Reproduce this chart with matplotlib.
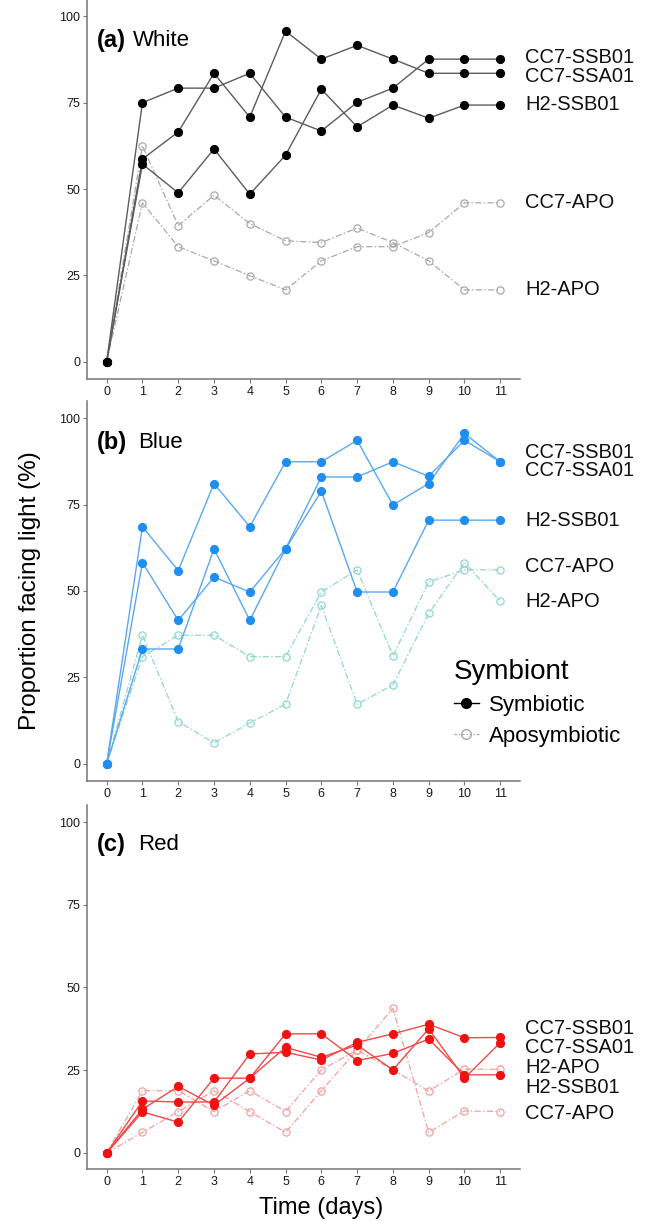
import matplotlib
matplotlib.use("Agg")
import matplotlib.pyplot as plt
from matplotlib.lines import Line2D
from matplotlib.transforms import blended_transform_factory

plt.rcParams["font.family"] = ["Liberation Sans", "DejaVu Sans"]

days = list(range(12))

# panel (a) white light
white_cc7_ssb01 = [0, 75.0, 79.2, 79.2, 83.5, 70.8, 66.8, 75.1, 79.2, 87.6, 87.6, 87.6]
white_cc7_ssa01 = [0, 58.7, 66.5, 83.5, 70.8, 95.7, 87.6, 91.6, 87.6, 83.5, 83.5, 83.5]
white_h2_ssb01 = [0, 57.2, 48.9, 61.6, 48.5, 59.8, 78.9, 68.0, 74.3, 70.5, 74.3, 74.3]
white_cc7_apo = [0, 46.0, 33.3, 29.2, 24.9, 20.8, 29.2, 33.3, 33.3, 37.4, 46.0, 46.0]
white_h2_apo = [0, 62.5, 39.4, 48.2, 40.0, 35.0, 34.5, 38.7, 34.5, 29.2, 20.8, 20.8]

# panel (b) blue light
blue_cc7_ssb01 = [0, 68.6, 55.9, 81.1, 68.6, 87.4, 87.4, 93.6, 74.9, 81.1, 95.6, 87.4]
blue_cc7_ssa01 = [0, 58.2, 41.5, 54.0, 49.7, 62.2, 83.0, 83.0, 87.4, 83.2, 93.6, 87.4]
blue_h2_ssb01 = [0, 33.2, 33.2, 62.2, 41.5, 62.2, 78.9, 49.7, 49.7, 70.5, 70.5, 70.5]
blue_cc7_apo = [0, 31.0, 37.2, 37.2, 31.0, 31.0, 49.7, 56.1, 31.2, 52.6, 56.1, 56.1]
blue_h2_apo = [0, 37.2, 12.2, 6.0, 11.8, 17.2, 45.8, 17.2, 22.8, 43.5, 58.2, 47.0]

# panel (c) red light
red_cc7_ssb01 = [0, 15.7, 15.4, 15.4, 29.9, 30.4, 28.1, 33.4, 36.0, 38.9, 34.8, 34.9]
red_cc7_ssa01 = [0, 13.2, 20.1, 14.4, 22.6, 31.9, 28.9, 32.6, 25.1, 37.5, 22.6, 33.3]
red_h2_ssb01 = [0, 12.4, 9.3, 22.6, 22.6, 36.0, 36.0, 27.9, 30.1, 34.4, 23.6, 23.6]
red_cc7_apo = [0, 18.8, 18.8, 12.5, 18.8, 12.5, 25.1, 31.1, 43.7, 6.2, 12.7, 12.5]
red_h2_apo = [0, 6.2, 12.5, 18.8, 12.5, 6.2, 18.8, 31.1, 25.1, 18.7, 25.3, 25.3]

# where the strain names sit on the right (y in data units)
white_label_y = {"CC7-SSB01": 88.2, "CC7-SSA01": 82.7, "H2-SSB01": 74.6, "CC7-APO": 46.0, "H2-APO": 20.8}
blue_label_y = {"CC7-SSB01": 90.0, "CC7-SSA01": 85.0, "H2-SSB01": 70.5, "CC7-APO": 57.0, "H2-APO": 46.9}
red_label_y = {"CC7-SSB01": 37.7, "CC7-SSA01": 31.9, "H2-APO": 25.8, "H2-SSB01": 19.7, "CC7-APO": 12.0}

panels = [
    {"tag": "(a)", "name": "White", "name_x": 0.106,
     "sym": [white_cc7_ssb01, white_cc7_ssa01, white_h2_ssb01],
     "apo": [white_cc7_apo, white_h2_apo],
     "sym_mk": "#000000", "sym_ln": "#5c5c5c", "apo_c": "#a9a9a9", "labels": white_label_y,
     "rect": [0.1332, 0.6896, 0.663, 0.3112]},
    {"tag": "(b)", "name": "Blue", "name_x": 0.117,
     "sym": [blue_cc7_ssb01, blue_cc7_ssa01, blue_h2_ssb01],
     "apo": [blue_cc7_apo, blue_h2_apo],
     "sym_mk": "#1f8ef1", "sym_ln": "#5aa8f2", "apo_c": "#8fd6cf", "labels": blue_label_y,
     "rect": [0.1332, 0.3604, 0.663, 0.3112]},
    {"tag": "(c)", "name": "Red", "name_x": 0.117,
     "sym": [red_cc7_ssb01, red_cc7_ssa01, red_h2_ssb01],
     "apo": [red_cc7_apo, red_h2_apo],
     "sym_mk": "#f21010", "sym_ln": "#f24848", "apo_c": "#f4a0a0", "labels": red_label_y,
     "rect": [0.1332, 0.0422, 0.663, 0.2981]},
]

apo_dash = (5, 1.8, 1.2, 1.8)

fig = plt.figure(figsize=(6.53, 12.21), dpi=100)

for p in panels:
    ax = fig.add_axes(p["rect"])
    for vals in p["apo"]:
        ax.plot(days, vals, color=p["apo_c"], lw=0.9, dashes=apo_dash,
                marker="o", ms=5.2, mfc="none", mec=p["apo_c"], mew=0.9, zorder=2)
    for vals in p["sym"]:
        ax.plot(days, vals, color=p["sym_ln"], lw=1.0, zorder=3)
        ax.plot(days, vals, ls="none", marker="o", ms=5.6, color=p["sym_mk"], zorder=4)

    ax.set_xlim(-0.55, 11.55)
    ax.set_ylim(-5, 105)
    ax.set_xticks(days)
    ax.set_yticks([0, 25, 50, 75, 100])
    for s in ["top", "right"]:
        ax.spines[s].set_visible(False)
    for s in ["left", "bottom"]:
        ax.spines[s].set_color("#777777")
        ax.spines[s].set_linewidth(1.1)
    ax.tick_params(length=3, width=0.8, color="#777777", labelsize=9,
                   labelcolor="#1a1a1a", pad=2)

    ax.text(0.023, 0.892, p["tag"], transform=ax.transAxes, fontsize=17,
            fontweight="bold", va="center", ha="left")
    ax.text(p["name_x"], 0.892, p["name"], transform=ax.transAxes, fontsize=16,
            va="center", ha="left")

    tr = blended_transform_factory(ax.transAxes, ax.transData)
    for name, yv in p["labels"].items():
        ax.text(1.012, yv, name, transform=tr, fontsize=14.5, va="center",
                ha="left", color="#111111", clip_on=False)

    if p["tag"] == "(b)":
        handles = [
            Line2D([], [], color="black", lw=1.0, marker="o", ms=7, mfc="black"),
            Line2D([], [], color="#a9a9a9", lw=0.9, dashes=(2, 1.5, 1, 1.5),
                   marker="o", ms=7, mfc="none", mec="#a9a9a9"),
        ]
        leg = fig.legend(handles, ["Symbiotic", "Aposymbiotic"], title="Symbiont",
                         loc="upper left", bbox_to_anchor=(443 / 653, 1 - 648 / 1221),
                         frameon=False, fontsize=16, title_fontsize=20,
                         handlelength=1.1, handletextpad=0.45, labelspacing=0.45,
                         borderpad=0, alignment="left")

fig.text(321 / 653, 1 - 1208 / 1221, "Time (days)", ha="center", va="center", fontsize=17)
fig.text(30 / 653, 1 - 591 / 1221, "Proportion facing light (%)", ha="center",
         va="center", rotation=90, fontsize=17.5)

fig.savefig("out.png", dpi=100)
